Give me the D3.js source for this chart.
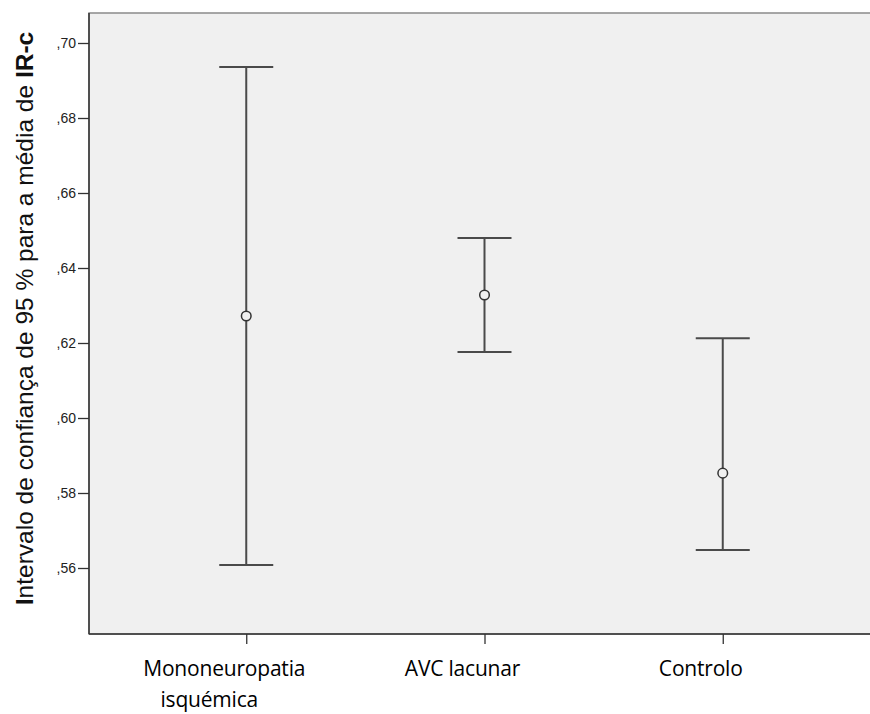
<!DOCTYPE html>
<html>
<head>
<meta charset="utf-8">
<script src="https://cdn.jsdelivr.net/npm/d3@7"></script>
<style>
  body { margin: 0; background: #fff; overflow: hidden; }
  svg { display: block; }
</style>
</head>
<body>
<script>
// data
var categories = ["Mononeuropatia isquémica", "AVC lacunar", "Controlo"];
var labelLines = [["Mononeuropatia", "isquémica"], ["AVC lacunar"], ["Controlo"]];
var means = [0.6272, 0.6328, 0.5853];
var lower = [0.5608, 0.6176, 0.5648];
var upper = [0.6936, 0.6480, 0.6213];
var yTicks = [0.56, 0.58, 0.60, 0.62, 0.64, 0.66, 0.68, 0.70];
var yMin = 0.5424, yMax = 0.708;

var W = 870, H = 714;
var plot = {left: 89, top: 13, right: 880, bottom: 634};

var x = d3.scalePoint()
	.domain(categories)
	.range([plot.left, plot.right])
	.padding(0.66);

var y = d3.scaleLinear()
	.domain([yMin, yMax])
	.range([plot.bottom, plot.top]);

var svg = d3.select("body").append("svg")
	.attr("width", W)
	.attr("height", H);

// plot area runs past the right edge of the picture
svg.append("rect")
	.attr("x", plot.left)
	.attr("y", plot.top)
	.attr("width", W + 20 - plot.left)
	.attr("height", plot.bottom - plot.top)
	.attr("fill", "#f0f0f0")
	.attr("stroke", "#8a8a8a")
	.attr("stroke-width", 1.5);

// y axis
var yAxis = svg.append("g")
	.attr("transform", "translate(" + plot.left + ",0)")
	.call(d3.axisLeft(y)
		.tickValues(yTicks)
		.tickSize(11)
		.tickPadding(2)
		.tickFormat(function (d) { return d3.format(".2f")(d).replace(/^0/, "").replace(".", ","); }));
yAxis.select(".domain").remove();
yAxis.selectAll(".tick line").attr("stroke", "#333").attr("stroke-width", 1.3);
yAxis.selectAll(".tick text")
	.attr("fill", "#222")
	.style("font-family", "'Liberation Sans', Arial, sans-serif")
	.style("font-size", "14px");

svg.append("line")
	.attr("x1", plot.left).attr("x2", plot.left)
	.attr("y1", plot.top).attr("y2", plot.bottom)
	.attr("stroke", "#333").attr("stroke-width", 1.5);

// x axis
var xAxis = svg.append("g")
	.attr("transform", "translate(0," + plot.bottom + ")")
	.call(d3.axisBottom(x).tickSize(10).tickFormat(""));
xAxis.select(".domain").remove();
xAxis.selectAll(".tick line").attr("stroke", "#333").attr("stroke-width", 1.3);

svg.append("line")
	.attr("x1", plot.left).attr("x2", W + 20)
	.attr("y1", plot.bottom).attr("y2", plot.bottom)
	.attr("stroke", "#333").attr("stroke-width", 1.5);

var lineOffsets = [-22, -37];
categories.forEach(function (c, i) {
	labelLines[i].forEach(function (t, j) {
		svg.append("text")
			.attr("x", x(c) + lineOffsets[j])
			.attr("y", 676 + j * 31)
			.attr("text-anchor", "middle")
			.attr("fill", "#000")
			.style("font-family", "'Open Sans', sans-serif")
			.style("font-size", "21px")
			.style("letter-spacing", "-0.2px")
			.text(t);
	});
});

// error bars
var capHalf = 27;
var bars = svg.append("g").selectAll("g")
	.data(categories)
	.enter().append("g");

bars.append("line")
	.attr("x1", function (d) { return x(d); })
	.attr("x2", function (d) { return x(d); })
	.attr("y1", function (d, i) { return y(upper[i]); })
	.attr("y2", function (d, i) { return y(lower[i]); })
	.attr("stroke", "#4a4a4a")
	.attr("stroke-width", 2);

bars.append("line")
	.attr("x1", function (d) { return x(d) - capHalf; })
	.attr("x2", function (d) { return x(d) + capHalf; })
	.attr("y1", function (d, i) { return y(upper[i]); })
	.attr("y2", function (d, i) { return y(upper[i]); })
	.attr("stroke", "#4a4a4a")
	.attr("stroke-width", 2);

bars.append("line")
	.attr("x1", function (d) { return x(d) - capHalf; })
	.attr("x2", function (d) { return x(d) + capHalf; })
	.attr("y1", function (d, i) { return y(lower[i]); })
	.attr("y2", function (d, i) { return y(lower[i]); })
	.attr("stroke", "#4a4a4a")
	.attr("stroke-width", 2);

bars.append("circle")
	.attr("cx", function (d) { return x(d); })
	.attr("cy", function (d, i) { return y(means[i]); })
	.attr("r", 4.8)
	.attr("fill", "#f0f0f0")
	.attr("stroke", "#333")
	.attr("stroke-width", 1.5);

// y title
var title = svg.append("text")
	.attr("transform", "translate(33," + ((plot.top + plot.bottom) / 2 - 5) + ") rotate(-90)")
	.attr("text-anchor", "middle")
	.attr("fill", "#111")
	.style("font-family", "'Liberation Sans', Arial, sans-serif")
	.style("font-size", "24.5px");
title.append("tspan").attr("font-weight", "bold").text("I");
title.append("tspan").text("ntervalo de confiança de 95 % para a média de ");
title.append("tspan").attr("font-weight", "bold").text("IR-c");
</script>
</body>
</html>
